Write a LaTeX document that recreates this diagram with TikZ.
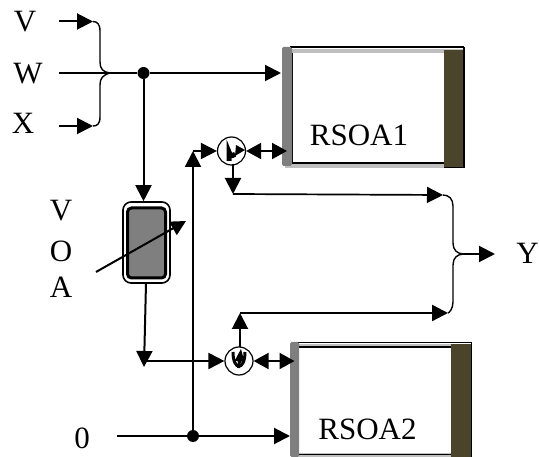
\documentclass[tikz,border=0pt]{standalone}
\usepackage{fontspec}
\setmainfont{Liberation Serif}
\usetikzlibrary{arrows.meta,calc}
\definecolor{barolive}{HTML}{4A452A}
\definecolor{bargray}{HTML}{7F7F7F}
\tikzset{
  lab/.style={font=\fontsize{31}{31}\selectfont,inner sep=0pt},
  tag/.style={font=\fontsize{31}{31}\selectfont,inner sep=0pt},
  wire/.style={line width=2pt,draw=black},
  arrow/.style={wire,-{Triangle[length=16pt,width=16pt]}},
  both/.style={wire,{Triangle[length=15pt,width=16pt]}-{Triangle[length=15pt,width=16pt]}},
  brace/.style={line width=1.4pt,draw=black},
  jdot/.style={circle,fill=black,inner sep=0pt,minimum size=12pt},
  circul/.style={circle,draw=black,line width=1.2pt,fill=white,minimum size=28pt,inner sep=0pt},
  inner arc/.style={line width=4pt,draw=black},
}
\begin{document}
\begin{tikzpicture}[x=1pt,y=-1pt]
\useasboundingbox (0,0) rectangle (539,457);
% labels
\node[lab] (V) at (25,22) {V};
\node[lab] (W) at (28,74) {W};
\node[lab] (X) at (23,123) {X};
\node[lab] (Va) at (61,211) {V};
\node[lab] (Oa) at (61,251) {O};
\node[lab] (Aa) at (61,287) {A};
\node[lab] (Y) at (527.5,253) {Y};
\node[lab] (Z) at (82,438) {0};
% free ends and junctions
\coordinate (vs) at (59,21.5);
\coordinate (ve) at (93,21.5);
\coordinate (ws) at (59,73);
\coordinate (xs) at (59,126);
\coordinate (xe) at (93,126);
\coordinate (zs) at (117,436);
\coordinate (ys) at (464,254);
\coordinate (ye) at (495,254);
\coordinate (b1s) at (443,195);
\coordinate (b2s) at (448,313);
\node[jdot] (j1) at (143.5,73) {};
\node[jdot] (j2) at (193,436) {};
% RSOA1
\fill[black!25] (285,49) rectangle (464,53);
\fill[black!25] (285,164) rectangle (464,168);
\draw[line width=2pt] (290,47.5) -- (464,47.5);
\draw[line width=1.8pt] (290,163) -- (446,163);
\draw[line width=1pt] (292.5,53) -- (292.5,162);
\fill[barolive] (444,50) rectangle (463,167);
\draw[black,line width=1.6pt] (464,47) -- (464,167.5) -- (444,167.5);
\fill[bargray,rounded corners=1.5pt] (282,47) rectangle (292,166);
\node[tag] (rsoa1) at (359,135) {RSOA1};
% RSOA2
\fill[black!25] (292,344) rectangle (472,346);
\fill[black!25] (292,453) rectangle (472,457);
\draw[line width=1.8pt] (298,342.5) -- (472,342.5);
\draw[line width=1.8pt] (298,347) -- (452,347);
\draw[line width=1.2pt] (298,454.5) -- (452,454.5);
\fill[barolive] (451,344) rectangle (471,457);
\draw[black,line width=1.2pt] (471.5,343) -- (471.5,457);
\fill[bargray,rounded corners=1.5pt] (290,342) rectangle (299,457);
\node[tag] (rsoa2) at (367.5,429) {RSOA2};
\coordinate (r1in) at (281,73);
\coordinate (r2in) at (290,436);
\coordinate (r1c) at (287,151);
\coordinate (r2c) at (294.5,361);
% VOA
\node[draw=black,line width=1.6pt,rounded corners=8pt,minimum width=47pt,minimum height=81pt,inner sep=0pt] (voa) at (146.5,242.5) {};
\draw[fill=bargray,draw=black,line width=3pt,rounded corners=4pt] (127.5,208) rectangle (165.5,278);
% VOA wires
\coordinate (voaL) at (96,272);
\coordinate (voaR) at (186,221);
\draw[wire,-{Triangle[length=15pt,width=15pt]}] (voaL) -- (voaR);
\coordinate (t1) at (144,367);
\coordinate (t1b) at (144,361);
\draw[arrow] (146,283) -- (t1);
% circulators
\node[circul] (c1) at (231.5,151) {};
\node[circul] (c2) at (239,361) {};
\draw[inner arc,line width=5pt] (229,161) -- (229,152) arc (180:40:3.5);
\fill (245,150) -- (236,145) -- (235,156) -- cycle;
\draw[inner arc,line width=3pt] (233,352) .. controls (233,371) and (245,371) .. (245,352);
\draw[inner arc,line width=3pt] (238.5,368) -- (240,358);
\fill (241,349) -- (234.5,361) -- (244.5,362) -- cycle;
% main wires
\draw[wire] (ws) -- (j1);
\draw[arrow] (j1) -- (r1in);
\draw[arrow] (j1) -- (j1 |- voa.north);
\draw[arrow] (vs) -- (ve);
\draw[arrow] (xs) -- (xe);
% left brace
\draw[brace] (ve) .. controls (97,21.5) and (100,24) .. (100,31) -- (100,62) .. controls (100,69) and (103,72) .. (110,73);
\draw[brace] (xe) .. controls (97,126) and (100,124) .. (100,117) -- (100,85) .. controls (100,78) and (103,75) .. (110,73);
% zero input
\draw[wire] (zs) -- (j2);
\draw[arrow] (j2) -- (r2in);
\coordinate (up) at (193,151);
\draw[arrow] (j2) -- (up);
\draw[arrow] (up) -- (c1.west);
\draw[arrow] (t1b) -- (c2.west);
\draw[both] (c1.east) -- (r1c);
\draw[both] (c2.east) -- (r2c);
% outputs
\coordinate (o1) at (233,194);
\coordinate (o2) at (240,313);
\draw[arrow] (233,164) -- (o1);
\draw[arrow] (240,347) -- (o2);
\draw[arrow,line width=1.7pt] (o1) -- (b1s);
\draw[arrow,line width=2.4pt] (o2) -- (b2s);
% right brace
\draw[brace] (b1s) .. controls (449,195) and (453,199) .. (453,206) -- (453,243) .. controls (453,250) and (457,254) .. (464,254);
\draw[brace] (b2s) .. controls (449,313) and (453,309) .. (453,302) -- (453,265) .. controls (453,258) and (457,254) .. (464,254);
\draw[arrow] (ys) -- (ye);
\end{tikzpicture}
\end{document}
